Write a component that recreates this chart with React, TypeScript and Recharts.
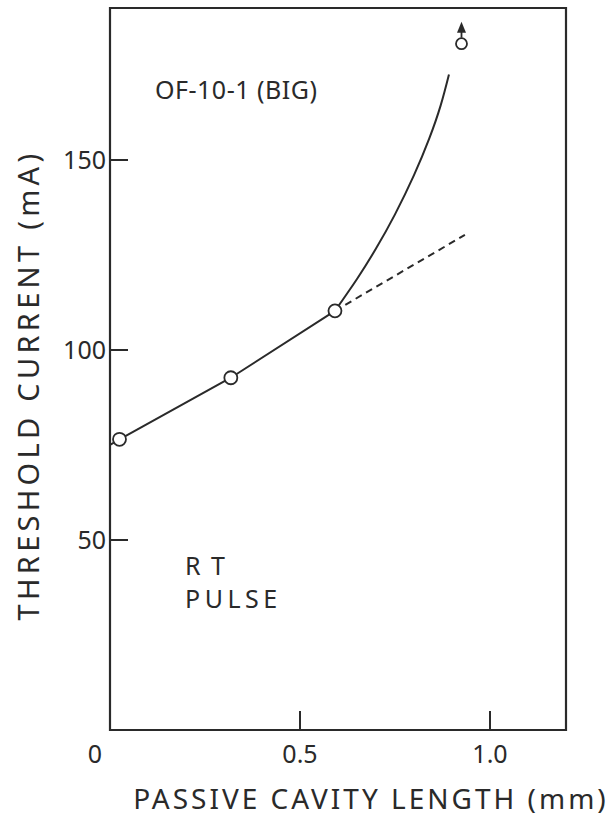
import { ComposedChart, Line, Scatter, XAxis, YAxis, ReferenceArea, Label } from 'recharts';

// passive cavity length (mm) vs threshold current (mA)
const measuredX = [0.025, 0.318, 0.592];
const measuredY = [76.5, 92.7, 110.3];

const linearFitX = [0, 0.025, 0.318, 0.592];
const linearFitY = [75, 76.5, 92.7, 110.3];

const curveX = [0.592, 0.65, 0.7, 0.75, 0.8, 0.84, 0.87, 0.892];
const curveY = [110.3, 118.7, 126.7, 135.7, 146, 155.6, 164.3, 172.5];

const extrapX = [0.592, 0.934];
const extrapY = [110.3, 130.3];

// point off the top of the curve (marked with an arrow)
const arrowX = [0.925];
const arrowY = [180.6];

const xTicks = [0, 0.5, 1.0];
const xTickLabels = ['0', '0.5', '1.0'];
const yTicks = [50, 100, 150];
const yTickLabels = ['50', '100', '150'];

const toPoints = (xs: number[], ys: number[]) => xs.map((x, i) => ({ x, y: ys[i] }));

const measured = toPoints(measuredX, measuredY);
const linearFit = toPoints(linearFitX, linearFitY);
const curve = toPoints(curveX, curveY);
const extrap = toPoints(extrapX, extrapY);
const arrowPoint = toPoints(arrowX, arrowY);

const INK = '#2a2a2a';
const FONT = '"Noto Sans", sans-serif';

const XTick = (props: any) => {
    const { x, y, payload } = props;
    const i = xTicks.indexOf(payload.value);
    const isZero = payload.value === 0;
    return (
        <g>
            {!isZero && <line x1={x} y1={y} x2={x} y2={y - 19} stroke={INK} strokeWidth={2} />}
            <text x={isZero ? x - 15 : x} y={y + 33} textAnchor='middle' fontSize={25} fill={INK} fontFamily={FONT}>
                {xTickLabels[i]}
            </text>
        </g>
    );
};

const YTick = (props: any) => {
    const { x, y, payload } = props;
    const i = yTicks.indexOf(payload.value);
    return (
        <g>
            <line x1={x} y1={y} x2={x + 18} y2={y} stroke={INK} strokeWidth={2} />
            <text x={x - 4} y={y + 9} textAnchor='end' fontSize={25} fill={INK} fontFamily={FONT}>
                {yTickLabels[i]}
            </text>
        </g>
    );
};

const OpenCircle = (props: any) => {
    const { cx, cy } = props;
    return <circle cx={cx} cy={cy} r={6.5} fill='#fff' stroke={INK} strokeWidth={1.8} />;
};

const ArrowCircle = (props: any) => {
    const { cx, cy } = props;
    return (
        <g>
            <circle cx={cx} cy={cy} r={5.5} fill='#fff' stroke={INK} strokeWidth={1.8} />
            <line x1={cx} y1={cy - 6} x2={cx} y2={cy - 16} stroke={INK} strokeWidth={1.8} />
            <path d={`M${cx - 4.5},${cy - 11} L${cx},${cy - 22} L${cx + 4.5},${cy - 11} Z`} fill={INK} />
        </g>
    );
};

function App() {
    return (
        <div style={{ position: 'absolute', left: 0, top: 0, width: 613, height: 817, background: '#fff' }}>
            <ComposedChart width={613} height={817} margin={{ top: 8, right: 47, bottom: 0, left: 0 }}>
                <XAxis
                    type='number'
                    dataKey='x'
                    domain={[0, 1.2]}
                    ticks={xTicks}
                    tick={<XTick />}
                    tickSize={0}
                    tickMargin={0}
                    axisLine={false}
                    height={87}
                    allowDataOverflow
                >
                    <Label
                        content={(p: any) => (
                            <text
                                x={p.viewBox.x + p.viewBox.width / 2 + 33}
                                y={p.viewBox.y + 79}
                                textAnchor='middle'
                                fontSize={28}
                                letterSpacing={3}
                                fill={INK}
                                fontFamily={FONT}
                            >
                                PASSIVE CAVITY LENGTH (mm)
                            </text>
                        )}
                    />
                </XAxis>
                <YAxis
                    type='number'
                    dataKey='y'
                    domain={[0, 190]}
                    ticks={yTicks}
                    tick={<YTick />}
                    tickSize={0}
                    tickMargin={0}
                    axisLine={false}
                    width={110}
                    allowDataOverflow
                >
                    <Label
                        content={(p: any) => {
                            const cx = 27;
                            const cy = p.viewBox.y + p.viewBox.height / 2 + 16;
                            return (
                                <text
                                    x={cx}
                                    y={cy}
                                    transform={`rotate(-90 ${cx} ${cy})`}
                                    textAnchor='middle'
                                    dominantBaseline='central'
                                    fontSize={29}
                                    letterSpacing={4.3}
                                    fill={INK}
                                    fontFamily={FONT}
                                >
                                    THRESHOLD CURRENT (mA)
                                </text>
                            );
                        }}
                    />
                </YAxis>
                <ReferenceArea x1={0} x2={1.2} y1={0} y2={190} fill='none' stroke={INK} strokeWidth={2.2} />
                <Line data={linearFit} dataKey='y' type='linear' stroke={INK} strokeWidth={2} dot={false} isAnimationActive={false} />
                <Line data={curve} dataKey='y' type='natural' stroke={INK} strokeWidth={2} dot={false} isAnimationActive={false} />
                <Line data={extrap} dataKey='y' type='linear' stroke={INK} strokeWidth={2} strokeDasharray='7 5' dot={false} isAnimationActive={false} />
                <Scatter data={measured} dataKey='y' shape={<OpenCircle />} isAnimationActive={false} />
                <Scatter data={arrowPoint} dataKey='y' shape={<ArrowCircle />} isAnimationActive={false} />
            </ComposedChart>
            <svg width={613} height={817} style={{ position: 'absolute', left: 0, top: 0, pointerEvents: 'none' }}>
                <g fontFamily={FONT} fontSize={25} fill={INK}>
                    <text x={155} y={99} letterSpacing={0.5}>OF-10-1 (BIG)</text>
                    <text x={185} y={575} letterSpacing={2}>R T</text>
                    <text x={185} y={608} letterSpacing={4.5}>PULSE</text>
                </g>
            </svg>
        </div>
    );
}

export default App;
